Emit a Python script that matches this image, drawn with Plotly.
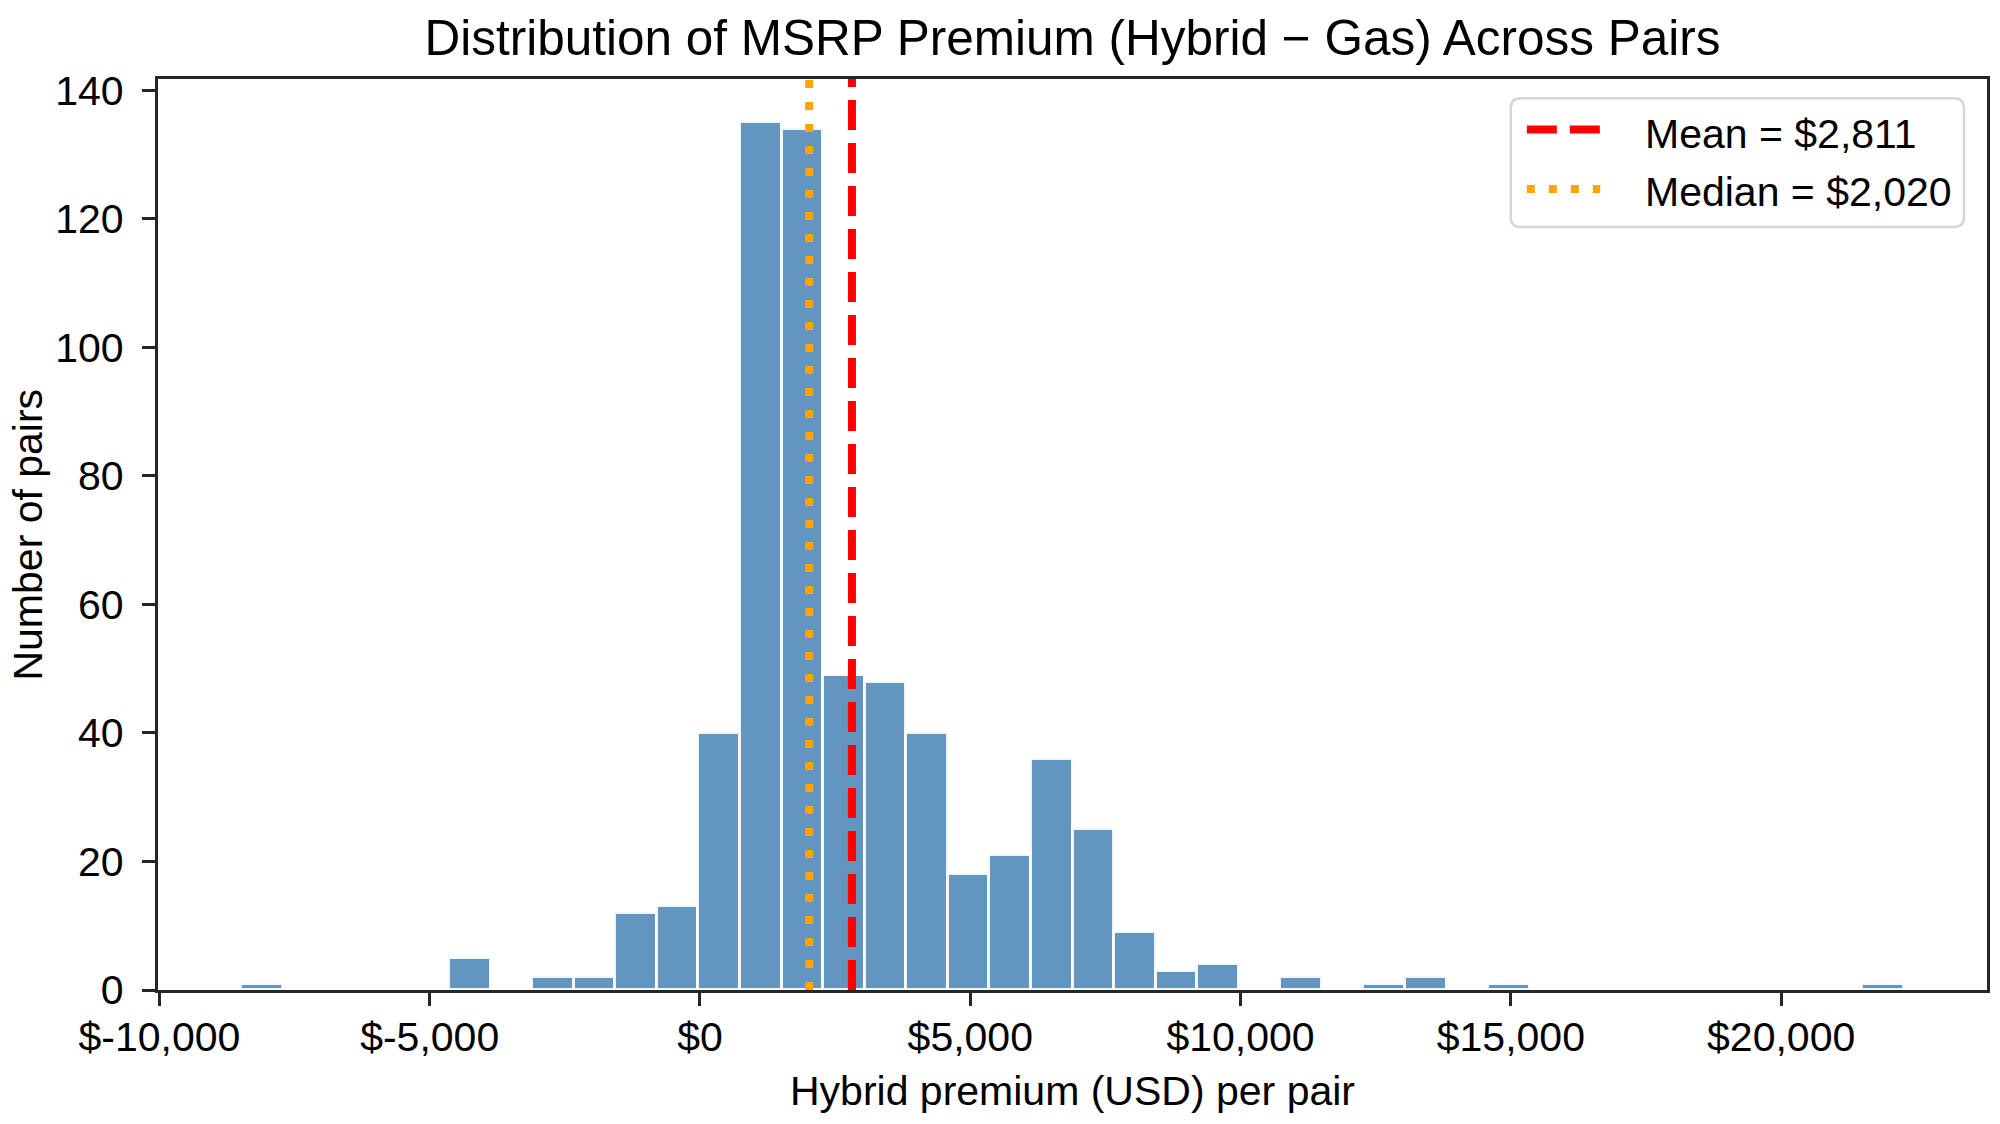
import numpy as np
import plotly.graph_objects as go

# ---- data ----
bin_lo = -8488          # left edge of first histogram bin (USD)
bin_hi = 22270          # right edge of last histogram bin (USD)
counts = [1, 0, 0, 0, 0, 5, 0, 2, 2, 12,
          13, 40, 135, 134, 49, 48, 40, 18, 21, 36,
          25, 9, 3, 4, 0, 2, 0, 1, 2, 0,
          1, 0, 0, 0, 0, 0, 0, 0, 0, 1]
mean_val = 2811
median_val = 2020
x_tick_vals = [-10000, -5000, 0, 5000, 10000, 15000, 20000]
y_tick_vals = [0, 20, 40, 60, 80, 100, 120, 140]
title_text = "Distribution of MSRP Premium (Hybrid − Gas) Across Pairs"
x_label = "Hybrid premium (USD) per pair"
y_label = "Number of pairs"
mean_label = f"Mean = ${mean_val:,}"
median_label = f"Median = ${median_val:,}"

# ---- build ----
edges = np.linspace(bin_lo, bin_hi, len(counts) + 1)
centers = (edges[:-1] + edges[1:]) / 2
widths = np.diff(edges)
span = bin_hi - bin_lo
x_range = [bin_lo - 0.05 * span, bin_hi + 0.05 * span]
y_range = [0, max(counts) * 1.05]

FONT = "Liberation Sans, Arial, Helvetica, sans-serif"
INK = "#262626"
MEAN_DASH = "30px,13px"
MEDIAN_DASH = "8px,14px"

fig = go.Figure()
fig.add_trace(go.Bar(
    x=centers, y=counts, width=widths,
    marker=dict(color="rgb(98,149,191)", line=dict(color="rgba(255,255,255,0.9)", width=3)),
    showlegend=False, hoverinfo="x+y",
))
fig.add_vline(x=mean_val, line=dict(color="red", width=8, dash=MEAN_DASH), layer="above")
fig.add_vline(x=median_val, line=dict(color="orange", width=8, dash=MEDIAN_DASH), layer="above")

# ---- legend (drawn in paper coordinates) ----
bx0, bx1, by0, by1 = 0.7396, 0.9874, 0.8375, 0.9788
rx, ry = 0.0055, 0.011
box_path = (f"M {bx0+rx},{by1} L {bx1-rx},{by1} Q {bx1},{by1} {bx1},{by1-ry} "
            f"L {bx1},{by0+ry} Q {bx1},{by0} {bx1-rx},{by0} "
            f"L {bx0+rx},{by0} Q {bx0},{by0} {bx0},{by0+ry} "
            f"L {bx0},{by1-ry} Q {bx0},{by1} {bx0+rx},{by1} Z")
fig.add_shape(type="path", path=box_path, xref="paper", yref="paper",
              line=dict(color="#d6d6d6", width=2.5), fillcolor="rgba(255,255,255,0.85)", layer="above")
fig.add_shape(type="line", xref="paper", yref="paper", x0=0.7484, x1=0.7885, y0=0.9446, y1=0.9446,
              line=dict(color="red", width=8, dash=MEAN_DASH), layer="above")
fig.add_shape(type="line", xref="paper", yref="paper", x0=0.7484, x1=0.7885, y0=0.8793, y1=0.8793,
              line=dict(color="orange", width=8, dash=MEDIAN_DASH), layer="above")
fig.add_annotation(xref="paper", yref="paper", x=0.8120, y=0.9400, text=mean_label, showarrow=False,
                   xanchor="left", yanchor="middle", font=dict(size=41, color="black", family=FONT))
fig.add_annotation(xref="paper", yref="paper", x=0.8120, y=0.8760, text=median_label, showarrow=False,
                   xanchor="left", yanchor="middle", font=dict(size=41, color="black", family=FONT))

# y-axis title placed as a rotated annotation (fixed position, no margin push)
fig.add_annotation(xref="paper", yref="paper", x=-0.0716, y=0.5, text=y_label, showarrow=False,
                   textangle=-90, xanchor="center", yanchor="middle",
                   font=dict(size=41, color="black", family=FONT))

axis_common = dict(
    showline=True, linewidth=3.3, linecolor=INK, mirror=True,
    ticks="outside", ticklen=13, tickwidth=3.2, tickcolor=INK,
    showgrid=False, zeroline=False, automargin=False,
    tickfont=dict(size=41, color="black", family=FONT),
)

fig.update_layout(
    width=2000, height=1124,
    margin=dict(l=158, r=13, t=79, b=134),
    paper_bgcolor="white", plot_bgcolor="white",
    font=dict(family=FONT, color="black"),
    title=dict(text=title_text, x=0.5, xref="paper", y=1 - 38 / 1124, yref="container",
               xanchor="center", yanchor="middle", font=dict(size=49.5, color="black", family=FONT)),
    bargap=0,
    xaxis=dict(range=x_range, tickvals=x_tick_vals,
               ticktext=[f"${v:,}" for v in x_tick_vals],
               ticklabelstandoff=-4,
               title=dict(text=x_label, font=dict(size=41, color="black", family=FONT), standoff=17),
               **axis_common),
    yaxis=dict(range=y_range, tickvals=y_tick_vals,
               ticktext=[str(v) for v in y_tick_vals],
               ticklabelstandoff=10,
               **axis_common),
)

# remove the default 8px page margin so the 2000x1124 figure fills the window exactly
fig.write_html("out.html", post_script="document.body.style.margin='0px';",
               config={"displayModeBar": False})
